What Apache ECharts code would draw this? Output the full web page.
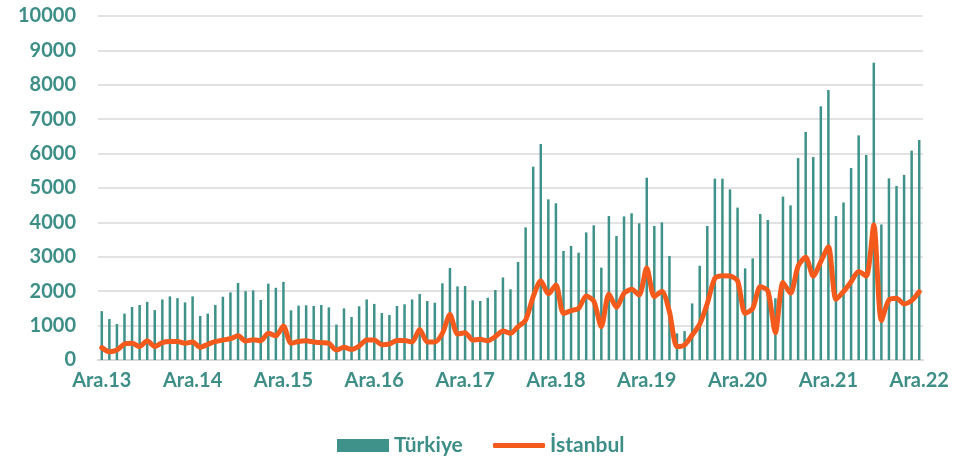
<!DOCTYPE html>
<html><head><meta charset="utf-8">
<script src="https://cdn.jsdelivr.net/npm/echarts@6/dist/echarts.min.js"></script>
<style>html,body{margin:0;padding:0;background:#fff}#c{width:955px;height:457px}</style>
</head><body><div id="c"></div>
<script>
const monthNames = ['Ara','Oca','Şub','Mar','Nis','May','Haz','Tem','Ağu','Eyl','Eki','Kas'];
const startYear = 13, monthCount = 109;
const categories = [];
for (let i = 0; i < monthCount; i++) {
  const m = i % 12;
  const y = startYear + Math.floor((i + 11) / 12);
  categories.push(monthNames[m] + '.' + y);
}
const turkiye = [1420,1190,1045,1350,1540,1600,1690,1450,1760,1850,1800,1675,
 1850,1280,1350,1600,1840,1965,2240,2000,2025,1745,2220,2100,
 2270,1445,1580,1590,1570,1600,1530,1030,1500,1250,1560,1760,
 1630,1365,1310,1570,1620,1760,1920,1715,1665,2230,2675,2140,
 2150,1735,1715,1810,2035,2400,2055,2850,3855,5620,6280,4670,
 4555,3170,3315,3120,3710,3915,2685,4185,3605,4175,4265,3975,
 5300,3895,4000,3025,775,840,1645,2740,3895,5270,5270,4960,
 4430,2665,2955,4245,4070,1795,4750,4495,5870,6630,5900,7375,
 7850,4185,4580,5580,6530,5960,8640,3940,5280,5060,5380,6085,
 6395];
const istanbul = [360,240,290,465,485,390,560,390,505,540,540,485,
 523,370,455,532,580,620,706,552,590,560,775,706,
 985,485,540,560,523,505,485,290,370,310,405,580,
 580,445,465,570,570,523,890,523,523,775,1320,755,
 795,580,600,560,680,845,775,970,1160,1840,2305,1920,
 2180,1355,1435,1500,1860,1715,970,1920,1530,1940,2055,1890,
 2675,1840,2000,1400,390,435,725,1045,1645,2375,2450,2440,
 2305,1355,1500,2130,2015,795,2255,1940,2730,2985,2440,2860,
 3295,1765,1985,2275,2570,2440,3925,1145,1745,1795,1630,1725,
 1985];
const textColor = '#3d8e86';
const legendText = {color: textColor, fontSize: 21, fontWeight: 'bold', fontFamily: 'Lato'};
const chart = echarts.init(document.getElementById('c'), null, {renderer:'canvas'});
chart.setOption({
  animation: false,
  textStyle: {fontFamily: 'Lato', fontWeight: 'bold'},
  grid: {left: 98, right: 32, top: 16, bottom: 97, containLabel: false},
  legend: [
    {left: 332, top: 430, itemWidth: 52, itemHeight: 13, textStyle: legendText,
     data: [{name: 'Türkiye', icon: 'rect'}]},
    {left: 488, top: 430, itemWidth: 52, itemHeight: 5, textStyle: legendText,
     data: [{name: 'İstanbul', icon: 'roundRect'}]}
  ],
  xAxis: {
    type: 'category', data: categories, boundaryGap: true,
    axisLine: {lineStyle: {color: '#d9d9d9', width: 2}},
    axisTick: {interval: 11, length: 8, lineStyle: {color: '#d9d9d9', width: 2}},
    axisLabel: {interval: 11, color: textColor, fontSize: 20, fontWeight: 'bold', margin: 11, fontFamily: 'Lato'}
  },
  yAxis: {
    type: 'value', min: 0, max: 10000, interval: 1000,
    axisLine: {show: false}, axisTick: {show: false},
    splitLine: {lineStyle: {color: '#d9d9d9', width: 1.5}},
    axisLabel: {color: textColor, fontSize: 20, fontWeight: 'bold', margin: 22, fontFamily: 'Lato',
      formatter: v => String(v)}
  },
  series: [
    {name: 'Türkiye', type: 'bar', data: turkiye, barWidth: 2.5,
     itemStyle: {color: '#3f9289'}},
    {name: 'İstanbul', type: 'line', data: istanbul, symbol: 'none', smooth: 0.25,
     lineStyle: {color: '#f45a1c', width: 5, cap: 'round', join: 'round'},
     itemStyle: {color: '#f45a1c'}}
  ]
});
</script></body></html>
